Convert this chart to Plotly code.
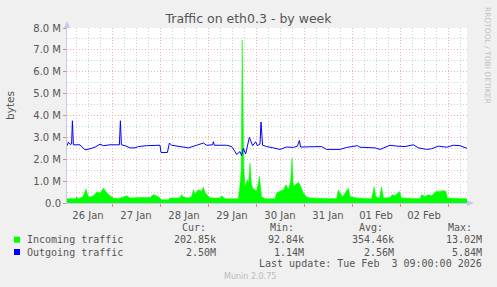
import pandas as pd
import plotly.graph_objects as go

# ---------------- data (hours after 2026-01-26 00:00, values in bytes/M) ----------------
BASE = pd.Timestamp("2026-01-26 00:00")

out_hours = [1.3, 2.2, 3.0, 3.8, 4.2, 4.7, 8.0, 8.8, 10.5, 13.0, 15.5, 18.0, 19.7, 23.0,
             27.7, 28.2, 28.7, 30.5, 33.0, 35.5, 37.2, 41.3, 44.7, 48.0, 48.5,
             51.7, 52.7, 53.8, 58.0, 62.2, 66.3, 69.7, 71.3, 74.3, 74.7, 75.2, 81.3,
             83.8, 85.5, 86.3, 88.0, 88.8, 89.7, 90.8, 92.7, 94.3, 95.8, 96.7, 98.0,
             98.5, 99.3, 101.3, 104.7, 108.0, 111.3, 114.7, 116.7, 117.7, 118.3, 123.0,
             128.8, 131.3, 138.0, 141.3, 146.7, 148.0, 151.3, 155.5, 158.0, 163.0,
             166.3, 170.5, 174.7, 177.2, 181.3, 183.8, 187.2, 191.3, 194.7, 198.0, 201.5]
out_vals = [2.58, 2.78, 2.68, 2.70, 3.76, 2.66, 2.66, 2.60, 2.43, 2.48, 2.55, 2.69, 2.62, 2.66,
            2.66, 3.76, 2.66, 2.62, 2.52, 2.52, 2.58, 2.62, 2.64, 2.64, 2.31,
            2.31, 2.74, 2.64, 2.58, 2.52, 2.64, 2.74, 2.64, 2.66, 2.80, 2.64, 2.64,
            2.58, 2.35, 2.22, 2.35, 2.17, 2.50, 2.24, 3.00, 2.62, 2.80, 2.62, 2.70,
            3.70, 2.64, 2.58, 2.52, 2.45, 2.56, 2.54, 2.60, 2.86, 2.56, 2.58,
            2.58, 2.45, 2.45, 2.54, 2.62, 2.55, 2.55, 2.52, 2.45, 2.64,
            2.60, 2.58, 2.66, 2.52, 2.45, 2.48, 2.60, 2.55, 2.64, 2.62, 2.50]

in_hours = [1.3, 5.5, 6.3, 7.2, 8.8, 9.7, 11.0, 12.2, 13.8, 14.7, 16.7, 17.7, 18.8, 19.7,
            21.3, 23.0, 24.7, 27.2, 31.3, 33.0, 38.0, 43.0, 44.7, 46.3, 48.0, 48.8,
            52.2, 53.0, 58.0, 58.8, 59.7, 62.2, 63.8, 64.7, 65.5, 67.2, 68.8, 69.7,
            70.5, 72.2, 73.0, 78.0, 78.8, 80.5, 87.2, 88.0, 88.6, 89.1, 89.6, 89.9,
            90.5, 91.7, 92.3, 93.0, 93.7, 94.3, 95.5, 96.3, 97.7, 98.8, 100.5,
            105.5, 106.3, 108.0, 109.7, 111.0, 112.2, 113.3, 114.0, 114.7, 116.0,
            117.2, 118.0, 118.8, 119.7, 121.3, 123.0, 136.3, 137.2, 138.0, 139.3,
            141.0, 142.2, 143.0, 146.3, 153.8, 155.0, 156.0, 157.7, 158.8, 159.7,
            163.0, 164.2, 165.5, 167.7, 168.8, 178.0, 178.8, 180.5, 182.2, 183.8,
            186.0, 188.0, 189.7, 191.0, 191.7, 201.5]
in_vals = [0.20, 0.20, 0.27, 0.20, 0.25, 0.33, 0.64, 0.27, 0.30, 0.33, 0.53, 0.46, 0.55, 0.68,
           0.48, 0.33, 0.23, 0.20, 0.33, 0.23, 0.25, 0.25, 0.38, 0.33, 0.23, 0.15,
           0.15, 0.23, 0.23, 0.38, 0.27, 0.23, 0.30, 0.61, 0.42, 0.61, 0.53, 0.73,
           0.48, 0.30, 0.23, 0.23, 0.33, 0.20, 0.20, 0.85, 1.50, 7.45, 2.50, 1.60,
           0.76, 1.06, 0.90, 1.83, 0.90, 0.68, 0.61, 0.53, 1.21, 0.30, 0.20,
           0.20, 0.46, 0.53, 0.61, 0.84, 0.61, 0.99, 2.05, 0.76, 0.84,
           0.94, 0.84, 0.68, 0.46, 0.27, 0.23, 0.20, 0.60, 0.46, 0.27,
           0.53, 0.68, 0.30, 0.23, 0.20, 0.73, 0.27, 0.23, 0.73, 0.23,
           0.25, 0.38, 0.33, 0.53, 0.23, 0.20, 0.38, 0.30, 0.38, 0.33,
           0.53, 0.53, 0.57, 0.53, 0.23, 0.20]

y_tick_vals = [0, 1e6, 2e6, 3e6, 4e6, 5e6, 6e6, 7e6, 8e6]
y_tick_text = ["0.0", "1.0 M", "2.0 M", "3.0 M", "4.0 M", "5.0 M", "6.0 M", "7.0 M", "8.0 M"]

legend_names = ["Incoming traffic", "Outgoing traffic"]
legend_cur = ["202.85k", "2.50M"]
legend_min = ["92.84k", "1.14M"]
legend_avg = ["354.46k", "2.56M"]
legend_max = ["13.02M", "5.84M"]
colors = ["#00FF00", "#0000FF"]

# ---------------- figure ----------------
W, H = 497, 287
L, R, T, B = 67, 30, 28, 84
PW, PH = W - L - R, H - T - B


def px(x):
    return (x - L) / PW


def py(y):
    return (T + PH - y) / PH


def times(hours):
    return BASE + pd.to_timedelta(hours, unit="h")


fig = go.Figure()
fig.add_trace(go.Scatter(x=times(in_hours), y=[v * 1e6 for v in in_vals], mode="lines",
                         line=dict(color=colors[0], width=0.5), fill="tozeroy",
                         fillcolor=colors[0], hoverinfo="skip", showlegend=False))
fig.add_trace(go.Scatter(x=times(out_hours), y=[v * 1e6 for v in out_vals], mode="lines",
                         line=dict(color=colors[1], width=1), hoverinfo="skip", showlegend=False))

TXT = "#555555"
MAJ = "#F2B0B0"
MIN = "#D0D0D0"
DASH = "1px,2px"
fig.update_layout(
    width=W, height=H, margin=dict(l=L, r=R, t=T, b=B),
    paper_bgcolor="#F0F0F0", plot_bgcolor="#FFFFFF",
    font=dict(family="DejaVu Sans", size=10, color=TXT),
    title=dict(text="Traffic on eth0.3 - by week", x=0.5, xref="container", xanchor="center",
               y=1 - 19 / H, yref="container", yanchor="middle",
               font=dict(family="DejaVu Sans", size=12.5, color=TXT)),
    xaxis=dict(type="date", range=[BASE + pd.Timedelta(hours=1.5), BASE + pd.Timedelta(hours=201.5)],
               tick0="2026-01-26", dtick=86400000, ticklabelmode="period", tickformat="%d %b",
               showgrid=True, gridcolor=MAJ, griddash=DASH, gridwidth=1,
               ticks="outside", ticklen=3, tickcolor="#F08080",
               minor=dict(dtick=6 * 3600000, showgrid=True, gridcolor=MIN, griddash=DASH, ticks=""),
               showline=True, linecolor="#C8C8F0", zeroline=False, fixedrange=True,
               tickfont=dict(size=10, color=TXT)),
    yaxis=dict(range=[0, 8e6], tickvals=y_tick_vals, ticktext=y_tick_text,
               showgrid=True, gridcolor=MAJ, griddash=DASH, gridwidth=1,
               ticks="outside", ticklen=3, tickcolor="#F08080",
               minor=dict(dtick=0.5e6, showgrid=True, gridcolor=MIN, griddash=DASH, ticks=""),
               showline=True, linecolor="#C8C8F0", zeroline=False, fixedrange=True,
               tickfont=dict(size=10, color=TXT)),
)

ann = []


def add(text, x, y, anchor="left", size=10, color=TXT, family="DejaVu Sans Mono", angle=0):
    ann.append(dict(text=text, x=px(x), y=py(y), xref="paper", yref="paper", showarrow=False,
                    xanchor=anchor, yanchor="middle", textangle=angle,
                    font=dict(family=family, size=size, color=color)))


add("bytes", 10, 106, anchor="center", size=10.5, family="DejaVu Sans", angle=-90)
add("RRDTOOL / TOBI OETIKER", 487, 55, anchor="center", size=7.5, color="#C0C0C0",
    family="DejaVu Sans", angle=90)

add("Cur:", 180, 227)
add("Min:", 268, 227)
add("Avg:", 357, 227)
add("Max:", 446, 227)
rows_y = [239.7, 252]
for i in range(2):
    add(legend_names[i], 24.5, rows_y[i])
    add(legend_cur[i], 218, rows_y[i], anchor="right")
    add(legend_min[i], 306, rows_y[i], anchor="right")
    add(legend_avg[i], 395.5, rows_y[i], anchor="right")
    add(legend_max[i], 484, rows_y[i], anchor="right")
add("Last update: Tue Feb\u00a0\u00a03 09:00:00 2026", 484, 263.5, anchor="right")
add("Munin 2.0.75", 222, 276.5, size=8, color="#BBBBBB", family="DejaVu Sans")
fig.update_layout(annotations=ann)

shapes = []
for i, yc in enumerate(rows_y):
    shapes.append(dict(type="rect", xref="paper", yref="paper", x0=px(14), x1=px(20),
                       y0=py(yc - 3), y1=py(yc + 3), fillcolor=colors[i], line=dict(width=0)))
# axis arrows
shapes.append(dict(type="path", xref="paper", yref="paper",
                   path=f"M {px(64)},{py(28)} L {px(70)},{py(28)} L {px(67)},{py(21)} Z",
                   fillcolor="#C8C8F0", line=dict(width=0)))
shapes.append(dict(type="path", xref="paper", yref="paper",
                   path=f"M {px(467)},{py(200)} L {px(467)},{py(206)} L {px(474)},{py(203)} Z",
                   fillcolor="#C8C8F0", line=dict(width=0)))
fig.update_layout(shapes=shapes)

fig.write_html("out.html")
